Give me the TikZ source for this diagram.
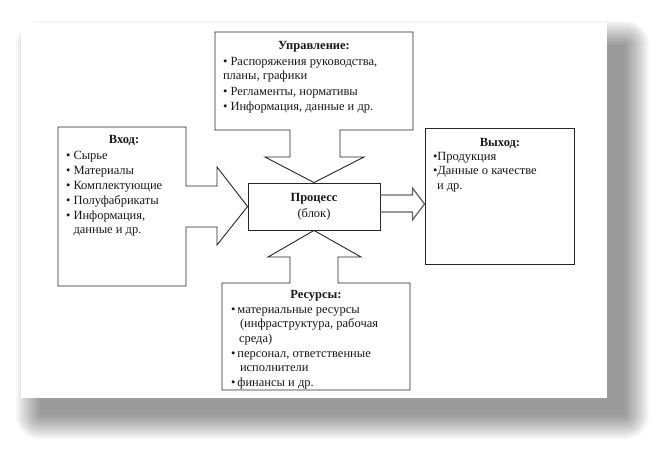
\documentclass[tikz,border=0pt]{standalone}
\usepackage{fontspec}
\setmainfont{Liberation Serif}
\usetikzlibrary{calc}
\begin{document}
\begin{tikzpicture}[x=1pt,y=-1pt,
  edge/.style={line width=0.9pt, draw=black!85, line join=miter},
  dbl/.style={line width=1.3pt, draw=black!60, line join=miter},
  ghost/.style={draw=none, inner sep=0pt, outer sep=0pt},
  txt/.style={font=\fontsize{12.5}{14.5}\selectfont, inner sep=0pt, outer sep=0pt, align=left, anchor=north west, text=black!90},
  head/.style={font=\bfseries\fontsize{12.5}{14.5}\selectfont, inner sep=0pt, anchor=base, text=black!90},
  plain/.style={font=\fontsize{12.5}{14.5}\selectfont, inner sep=0pt, anchor=base, text=black!90}]
\useasboundingbox (0,0) rectangle (662,453);
\fill[white] (0,0) rectangle (662,453);
% drop shadow of the sheet
\foreach \r in {0,2,...,24}
  \fill[black, opacity=0.035, rounded corners=\r pt] (40-\r,45-\r) rectangle (625+\r,415+\r);
\fill[white] (21,23) rectangle (607,398);

% boxes
\node[draw, edge, minimum width=132pt, minimum height=47pt, inner sep=0pt] (proc) at (314,206.5) {};
\node[ghost, minimum width=128pt, minimum height=159pt] (inp) at (122,206.5) {};
\node[ghost, minimum width=198pt, minimum height=98pt] (ctl) at (314,81) {};
\node[ghost, minimum width=188pt, minimum height=107pt] (res) at (316,336.5) {};
\node[draw, edge, minimum width=149pt, minimum height=136pt, inner sep=0pt] (out) at (499.5,196) {};

% input box with block arrow
\draw[edge] (inp.north east) -- (inp.north west) -- (inp.south west) -- (inp.south east)
  -- ($(inp.east)+(0,20.5)$) -- ($(inp.east)+(31,20.5)$) -- ($(inp.east)+(31,38.5)$)
  -- (proc.west)
  -- ($(inp.east)+(31,-39.5)$) -- ($(inp.east)+(31,-20.5)$) -- ($(inp.east)+(0,-20.5)$) -- cycle;

% control box with block arrow
\draw[edge] (ctl.south west) -- (ctl.north west) -- (ctl.north east) -- (ctl.south east)
  -- ($(ctl.south)+(26,0)$) -- ($(ctl.south)+(26,27)$) -- ($(ctl.south)+(50,27)$)
  -- (proc.north)
  -- ($(ctl.south)+(-49,27)$) -- ($(ctl.south)+(-24,27)$) -- ($(ctl.south)+(-24,0)$) -- cycle;

% resources box with block arrow
\draw[edge] (res.north west) -- (res.south west) -- (res.south east) -- (res.north east)
  -- ($(res.north)+(22,0)$) -- ($(res.north)+(22,-26)$) -- ($(res.north)+(45,-26)$)
  -- (proc.south)
  -- ($(res.north)+(-48,-26)$) -- ($(res.north)+(-26,-26)$) -- ($(res.north)+(-26,0)$) -- cycle;

% output block arrow
\coordinate (tip) at ($(out.west)+(0,8)$);
\draw[dbl] ($(proc.east)+(0,-11.5)$) -- ($(proc.east)+(32,-11.5)$) -- ($(proc.east)+(32,-18.5)$)
  -- (tip) -- ($(proc.east)+(32,13.5)$) -- ($(proc.east)+(32,5.5)$) -- ($(proc.east)+(0,5.5)$);

% texts
\node[head] (proch) at (314,201) {Процесс};
\node[plain] (procb) at (314,217) {(блок)};

\node[head] (ctlh) at (314,49) {Управление:};
\node[txt] (ctlt) at (223,55) {\strut•~Распоряжения руководства,\\планы, графики\\[1pt]•~Регламенты, нормативы\\[1pt]•~Информация, данные и др.};

\node[head] (inph) at (124,143) {Вход:};
\node[txt] (inpt) at (66,149) {\strut•~Сырье\\[0.5pt]•~Материалы\\[0.5pt]•~Комплектующие\\[0.5pt]•~Полуфабрикаты\\[0.5pt]•~Информация,\\\phantom{•~}данные и др.};

\node[head] (outh) at (500,146) {Выход:};
\node[txt] (outt) at (433,150) {\strut•Продукция\\•Данные о качестве\\\hspace*{4pt}и др.};

\node[head] (resh) at (316,298) {Ресурсы:};
\node[txt] (rest) at (231,303) {\strut•\,материальные ресурсы\\\hspace*{9pt}(инфраструктура, рабочая\\\hspace*{8pt}среда)\\[0.5pt]•\,персонал, ответственные\\\hspace*{9pt}исполнители\\[0.5pt]•\,финансы и др.};
\end{tikzpicture}
\end{document}
